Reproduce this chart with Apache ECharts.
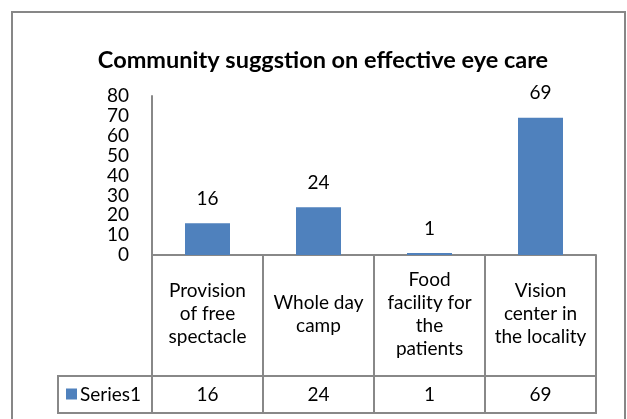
<!DOCTYPE html>
<html>
<head>
<meta charset="utf-8">
<script src="https://cdn.jsdelivr.net/npm/echarts@6/dist/echarts.min.js"></script>
<style>
html,body{margin:0;padding:0;background:#fff;}
#chart{width:627px;height:419px;}
</style>
</head>
<body>
<div id="chart"></div>
<script>
const chartTitle = 'Community suggstion on effective eye care';
const categories = ['Provision\nof free\nspectacle', 'Whole day\ncamp', 'Food\nfacility for\nthe\npatients', 'Vision\ncenter in\nthe locality'];
const values = [16, 24, 1, 69];
const seriesName = 'Series1';
const yMin = 0, yMax = 80, yInterval = 10;

const FONT = 'Lato';
const FS = 19;
const GRID = '#888888';
const BAR = '#4F81BD';
const catRowH = 121, valRowH = 37, legendLeft = 58;

const chart = echarts.init(document.getElementById('chart'), null, {renderer: 'canvas'});
const option = {
  animation: false,
  backgroundColor: '#ffffff',
  title: {
    text: chartTitle,
    left: 318, top: 43, textAlign: 'center',
    textStyle: {fontFamily: FONT, fontWeight: 'bold', fontSize: 23.5, color: '#000'}
  },
  grid: {left: 152, right: 31, top: 96, bottom: 164, containLabel: false},
  xAxis: {
    type: 'category',
    data: categories,
    axisLine: {show: true, lineStyle: {color: GRID, width: 2}},
    axisTick: {show: true, length: catRowH + valRowH, lineStyle: {color: GRID, width: 2}},
    axisLabel: {
      interval: 0, margin: 59, verticalAlign: 'middle',
      fontFamily: FONT, fontSize: FS, lineHeight: 23, color: '#000', align: 'center'
    }
  },
  yAxis: {
    type: 'value', min: yMin, max: yMax, interval: yInterval,
    axisLine: {show: true, lineStyle: {color: GRID, width: 2}},
    axisTick: {show: false},
    splitLine: {show: false},
    axisLabel: {margin: 23, fontFamily: FONT, fontSize: FS, color: '#000'}
  },
  series: [{
    name: seriesName,
    type: 'bar',
    data: values,
    barWidth: 45,
    itemStyle: {color: BAR},
    label: {show: true, position: 'top', distance: 15, fontFamily: FONT, fontSize: FS, color: '#000'}
  }]
};
chart.setOption(option);

// Build data-table row (values) from the axis scale
const baseY = chart.convertToPixel({yAxisIndex: 0}, 0);
const rowTop = baseY + catRowH;
const rowBot = rowTop + valRowH;
const step = chart.convertToPixel({xAxisIndex: 0}, 1) - chart.convertToPixel({xAxisIndex: 0}, 0);
const leftEdge = chart.convertToPixel({xAxisIndex: 0}, 0) - step / 2;
const rightEdge = leftEdge + step * categories.length;
const graphics = [
  {type: 'rect', shape: {x: 12, y: 12, width: 613, height: 430}, style: {fill: null, stroke: '#878787', lineWidth: 2}, silent: true},
  {type: 'line', shape: {x1: legendLeft, y1: rowTop, x2: rightEdge + 1, y2: rowTop}, style: {stroke: GRID, lineWidth: 2}},
  {type: 'line', shape: {x1: legendLeft, y1: rowBot, x2: rightEdge + 1, y2: rowBot}, style: {stroke: GRID, lineWidth: 2}},
  {type: 'line', shape: {x1: legendLeft, y1: rowTop - 1, x2: legendLeft, y2: rowBot + 1}, style: {stroke: GRID, lineWidth: 2}},
  {type: 'rect', shape: {x: legendLeft + 8, y: (rowTop + rowBot) / 2 - 6, width: 11, height: 11}, style: {fill: BAR}},
  {type: 'text', x: legendLeft + 22, y: (rowTop + rowBot) / 2, style: {text: seriesName, fontFamily: FONT, fontSize: FS, fill: '#000', verticalAlign: 'middle', align: 'left'}}
];
values.forEach(function (v, i) {
  graphics.push({type: 'text', x: chart.convertToPixel({xAxisIndex: 0}, i), y: (rowTop + rowBot) / 2,
    style: {text: String(v), fontFamily: FONT, fontSize: FS, fill: '#000', align: 'center', verticalAlign: 'middle'}});
});
chart.setOption({graphic: graphics});
</script>
</body>
</html>
